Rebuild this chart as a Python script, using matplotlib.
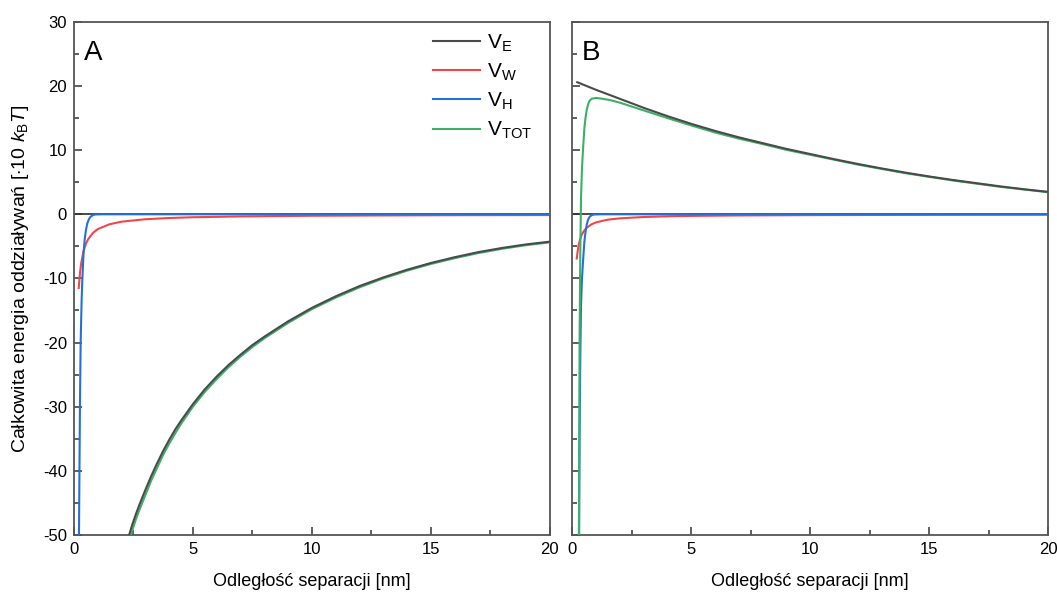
import matplotlib
matplotlib.use('Agg')
import matplotlib.pyplot as plt
from matplotlib.ticker import MultipleLocator

plt.rcParams['font.family'] = ['Liberation Sans', 'DejaVu Sans']
plt.rcParams['mathtext.fontset'] = 'custom'
plt.rcParams['mathtext.rm'] = 'Liberation Sans'
plt.rcParams['mathtext.it'] = 'Liberation Sans:italic'
plt.rcParams['axes.unicode_minus'] = False

# --- dane ---
# panel A
a_ve_x = [2.32, 2.45, 2.6, 2.75, 3.0, 3.25, 3.5, 3.75, 4.0, 4.25, 4.5, 5.0, 5.5, 6.0,
          6.5, 7.0, 7.5, 8.0, 9.0, 10.0, 11.0, 12.0, 13.0, 14.0, 15.0, 16.0, 17.0,
          18.0, 19.0, 20.0]
a_ve_y = [-50.0, -48.4, -46.8, -45.3, -43.0, -40.8, -38.8, -36.9, -35.2, -33.6, -32.2,
          -29.6, -27.3, -25.3, -23.5, -21.9, -20.4, -19.1, -16.7, -14.6, -12.8, -11.2,
          -9.85, -8.65, -7.6, -6.7, -5.9, -5.25, -4.7, -4.27]
a_tot_y = [-50.9, -49.3, -47.6, -46.1, -43.8, -41.5, -39.5, -37.5, -35.8, -34.2, -32.7,
           -30.0, -27.7, -25.7, -23.85, -22.2, -20.7, -19.35, -16.95, -14.8, -13.0,
           -11.4, -10.0, -8.8, -7.75, -6.85, -6.05, -5.38, -4.82, -4.38]
a_vw_x = [0.2, 0.25, 0.3, 0.4, 0.5, 0.6, 0.8, 1.0, 1.5, 2, 3, 4, 5, 7, 10, 13, 16, 20]
a_vw_y = [-11.5, -9.2, -7.7, -5.75, -4.6, -3.85, -2.9, -2.3, -1.55, -1.15, -0.77,
          -0.58, -0.46, -0.33, -0.23, -0.18, -0.14, -0.12]
a_vh_x = [0.21, 0.25, 0.28, 0.32, 0.35, 0.4, 0.45, 0.5, 0.56, 0.63, 0.7, 0.8, 0.9, 1.2, 20]
a_vh_y = [-50, -30, -20, -13.5, -10.3, -6.2, -3.9, -2.5, -1.4, -0.75, -0.37, -0.12,
          -0.03, 0, 0]

# panel B
b_ve_x = [0.2, 1, 2, 3, 4, 5, 6, 7, 8, 9, 10, 11, 12, 13, 14, 15, 16, 17, 18, 19, 20]
b_ve_y = [20.6, 19.4, 18.0, 16.6, 15.3, 14.1, 13.0, 12.0, 11.1, 10.2, 9.4, 8.6, 7.85,
          7.15, 6.5, 5.9, 5.35, 4.85, 4.35, 3.9, 3.5]
b_tot_x = [0.27, 0.30, 0.33, 0.36, 0.40, 0.45, 0.50, 0.55, 0.60, 0.66, 0.72, 0.8, 0.9,
           1.0, 1.2, 1.6, 2, 3, 4, 5, 6, 7, 8, 9, 10, 12, 14, 16, 18, 20]
b_tot_y = [-50, -18.7, -5.4, 2.7, 7.2, 10.5, 13.4, 15.1, 16.3, 17.2, 17.7, 18.0, 18.1,
           18.15, 18.05, 17.8, 17.4, 16.2, 15.0, 13.85, 12.75, 11.8, 10.95, 10.05,
           9.28, 7.75, 6.41, 5.27, 4.28, 3.44]
b_vw_x = [0.18, 0.22, 0.26, 0.3, 0.35, 0.4, 0.5, 0.6, 0.8, 1.0, 1.5, 2, 3, 4, 5, 7,
          10, 14, 20]
b_vw_y = [-6.9, -5.7, -4.8, -4.2, -3.6, -3.1, -2.5, -2.1, -1.56, -1.25, -0.83, -0.63,
          -0.42, -0.31, -0.25, -0.18, -0.13, -0.09, -0.06]
b_vh_x = [0.28, 0.30, 0.33, 0.36, 0.40, 0.45, 0.50, 0.55, 0.60, 0.66, 0.72, 0.8, 0.9,
          1.2, 20]
b_vh_y = [-50, -35, -22, -14.2, -10, -7.0, -4.3, -2.7, -1.6, -0.8, -0.4, -0.15, -0.04,
          0, 0]

kolory = {'E': '#4a4a4a', 'W': '#f0464a', 'H': '#2470d8', 'TOT': '#3bb066'}

fig = plt.figure(figsize=(10.57, 5.93), dpi=100)
axA = fig.add_axes([0.070, 0.098, 0.450, 0.865])
axB = fig.add_axes([0.5416, 0.098, 0.450, 0.865])

panele = [
    (axA, 'A', (a_ve_x, a_ve_y), (a_vw_x, a_vw_y), (a_vh_x, a_vh_y), (a_ve_x, a_tot_y)),
    (axB, 'B', (b_ve_x, b_ve_y), (b_vw_x, b_vw_y), (b_vh_x, b_vh_y), (b_tot_x, b_tot_y)),
]

for ax, litera, ve, vw, vh, vtot in panele:
    ax.axhline(0, color='#4a4a4a', lw=1.4, zorder=1)
    ax.plot(*vw, color=kolory['W'], lw=1.5, zorder=2, label=r'V$_\mathregular{W}$')
    ax.plot(*vh, color=kolory['H'], lw=1.5, zorder=3, label=r'V$_\mathregular{H}$')
    ax.plot(*vtot, color=kolory['TOT'], lw=1.5, zorder=4, label=r'V$_\mathregular{TOT}$')
    ax.plot(*ve, color=kolory['E'], lw=1.5, zorder=5, label=r'V$_\mathregular{E}$')
    ax.set_xlim(0, 20)
    ax.set_ylim(-50, 30)
    ax.xaxis.set_major_locator(MultipleLocator(5))
    ax.xaxis.set_minor_locator(MultipleLocator(2.5))
    ax.yaxis.set_major_locator(MultipleLocator(10))
    ax.yaxis.set_minor_locator(MultipleLocator(5))
    ax.tick_params(which='both', direction='in', top=False, right=False,
                   labelsize=12, color='#333333', width=1.1)
    ax.tick_params(which='major', length=6, pad=5)
    ax.tick_params(which='minor', length=3.5)
    for s in ax.spines.values():
        s.set_color('#555555')
        s.set_linewidth(1.3)
    ax.set_xlabel('Odległość separacji [nm]', fontsize=13, labelpad=12)
    ax.text(0.02, 0.965, litera, transform=ax.transAxes, fontsize=20,
            ha='left', va='top')

axB.tick_params(labelleft=False)
axA.set_ylabel(r'Całkowita energia oddziaływań [$\cdot$10 $\mathit{k}_\mathregular{B}\mathit{T}$]',
               fontsize=14, va='center')
axA.yaxis.set_label_coords(-0.113, 0.5)

uchwyty = [axA.lines[4], axA.lines[1], axA.lines[2], axA.lines[3]]
axA.legend(handles=uchwyty, loc='upper left', bbox_to_anchor=(0.745, 0.988),
           frameon=False, fontsize=15, handlelength=2.3, handletextpad=0.3,
           labelspacing=0.38, borderaxespad=0, borderpad=0.2)

fig.savefig('out.png', dpi=100)
